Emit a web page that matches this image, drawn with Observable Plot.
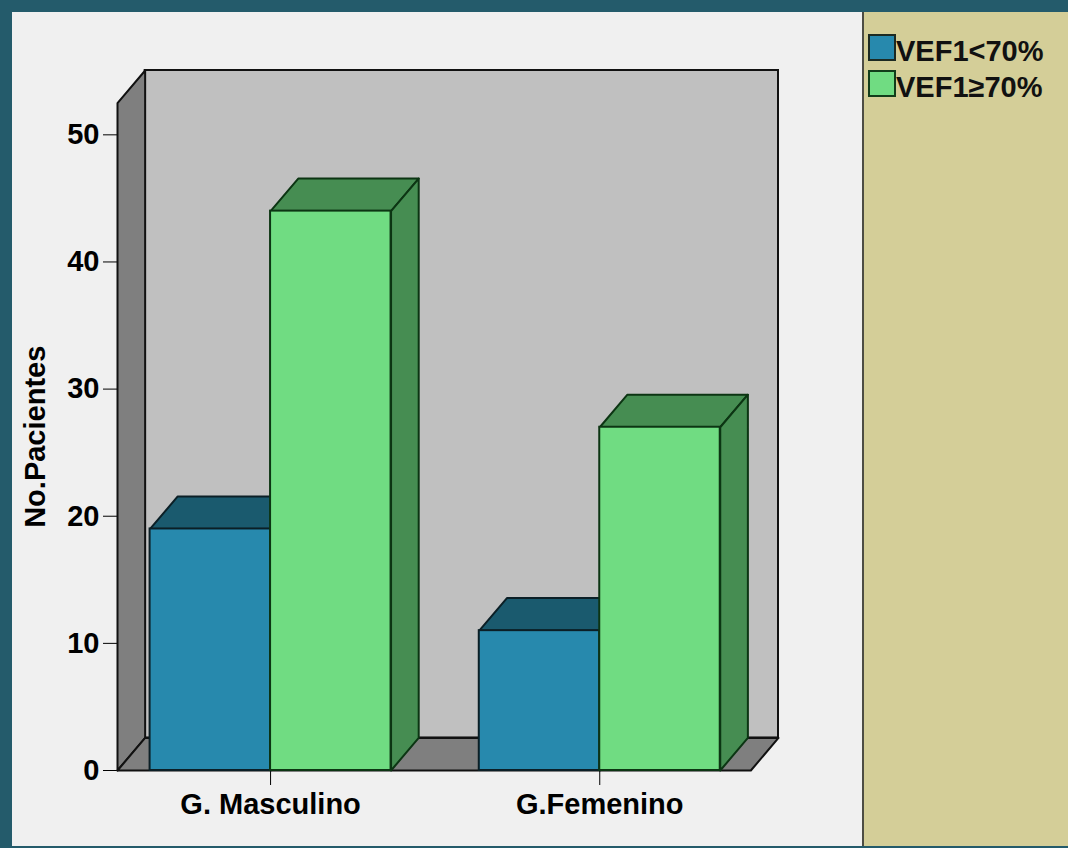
<!DOCTYPE html>
<html>
<head>
<meta charset="utf-8">
<script src="https://cdn.jsdelivr.net/npm/d3@7"></script>
<script src="https://cdn.jsdelivr.net/npm/@observablehq/plot@0.6"></script>
<style>
html, body { margin: 0; padding: 0; }
body { width: 1068px; height: 848px; background: #245b6b; position: relative; overflow: hidden;
  font-family: "Liberation Sans", Arial, sans-serif; }
#panel { position: absolute; left: 12px; top: 12px; width: 850px; height: 834px; background: #f0f0f0; }
#legend { position: absolute; left: 862px; top: 12px; width: 206px; height: 834px; background: #d4ce98;
  border-left: 2px solid #4d4d44; box-sizing: border-box; }
.sw { position: absolute; left: 4px; width: 24px; height: 23px; border: 2px solid #1c2a22; }
.lt { position: absolute; left: 32px; font-size: 29px; line-height: 29px; font-weight: bold; color: #111; white-space: nowrap; }
</style>
</head>
<body>
<div id="panel"></div>
<div id="legend"></div>
<script>
// ---- data ----
const categories = ["G. Masculino", "G.Femenino"];
const series = ["VEF1<70%", "VEF1≥70%"];
const vef1Below70 = [19, 11];
const vef1AtLeast70 = [44, 27];
const yTicks = [0, 10, 20, 30, 40, 50];
const yLabel = "No.Pacientes";

// ---- styling / layout ----
const frontColors = ["#2789ad", "#70dc82"];
const shadeColors = ["#1a5a6e", "#468d52"];
const edgeColors = ["#0b1f26", "#0c3513"];
const wallFill = "#c0c0c0", sideWallFill = "#7f7f7f";
const barHalf = 0.366;            // bar width in category units
const depthX = 0.084, depthY = 2.56; // 3D depth in scale units
const xLeft = -0.465, xRight = 1.459, wallTop = 52.5;

const valuesBySeries = [vef1Below70, vef1AtLeast70];

// fronts, tops, sides per series
function fronts(s) {
  return categories.map((c, i) => {
    const x1 = i + (s === 0 ? -barHalf : 0);
    return {category: c, series: series[s], x1, x2: x1 + barHalf, y1: 0, y2: valuesBySeries[s][i]};
  });
}
function tops(s) {
  return fronts(s).flatMap((b, i) => [
    {id: i, x: b.x1, y: b.y2},
    {id: i, x: b.x2, y: b.y2},
    {id: i, x: b.x2 + depthX, y: b.y2 + depthY},
    {id: i, x: b.x1 + depthX, y: b.y2 + depthY}
  ]);
}
function sides(s) {
  return fronts(s).flatMap((b, i) => [
    {id: i, x: b.x2, y: 0},
    {id: i, x: b.x2, y: b.y2},
    {id: i, x: b.x2 + depthX, y: b.y2 + depthY},
    {id: i, x: b.x2 + depthX, y: depthY}
  ]);
}

const leftWall = [
  {x: xLeft, y: 0}, {x: xLeft, y: wallTop},
  {x: xLeft + depthX, y: wallTop + depthY}, {x: xLeft + depthX, y: depthY}
];
const floor = [
  {x: xLeft, y: 0}, {x: xRight, y: 0},
  {x: xRight + depthX, y: depthY}, {x: xLeft + depthX, y: depthY}
];
const backWall = [{x1: xLeft + depthX, x2: xRight + depthX, y1: depthY, y2: wallTop + depthY}];

const barMarks = [0, 1].flatMap(s => [
  Plot.line(tops(s), {x: "x", y: "y", z: "id", curve: "linear-closed", fill: shadeColors[s], stroke: edgeColors[s], strokeWidth: 2, strokeLinejoin: "round"}),
  Plot.line(sides(s), {x: "x", y: "y", z: "id", curve: "linear-closed", fill: shadeColors[s], stroke: edgeColors[s], strokeWidth: 2, strokeLinejoin: "round"}),
  Plot.rect(fronts(s), {x1: "x1", x2: "x2", y1: "y1", y2: "y2", fill: frontColors[s], stroke: edgeColors[s], strokeWidth: 2})
]);

const chart = Plot.plot({
  width: 850,
  height: 834,
  marginLeft: 105,
  marginRight: 84,
  marginTop: 58,
  marginBottom: 76,
  style: {background: "transparent", color: "#000", fontFamily: "'Liberation Sans', Arial, sans-serif",
    fontSize: "29px", fontWeight: "bold", overflow: "visible"},
  x: {domain: [xLeft, xRight + depthX], ticks: [0, 1], tickFormat: i => categories[i],
      tickSize: 15, tickPadding: 8, label: null},
  y: {domain: [0, wallTop + depthY], ticks: yTicks, tickSize: 14, tickPadding: 4, label: null},
  marks: [
    Plot.rect(backWall, {x1: "x1", x2: "x2", y1: "y1", y2: "y2", fill: wallFill, stroke: "#111", strokeWidth: 2}),
    Plot.line(leftWall, {x: "x", y: "y", curve: "linear-closed", fill: sideWallFill, stroke: "#111", strokeWidth: 2, strokeLinejoin: "round"}),
    Plot.line(floor, {x: "x", y: "y", curve: "linear-closed", fill: sideWallFill, stroke: "#111", strokeWidth: 2, strokeLinejoin: "round"}),
    ...barMarks,
    Plot.text([yLabel], {text: d => d, y: () => wallTop / 2, frameAnchor: "left", dx: -82,
      rotate: -90, textAnchor: "middle", lineAnchor: "middle"})
  ]
});
document.getElementById("panel").appendChild(chart);

// legend
const legend = document.getElementById("legend");
const swTops = [22, 58], txtTops = [25, 61];
series.forEach((s, i) => {
  const sw = document.createElement("div");
  sw.className = "sw";
  sw.style.top = swTops[i] + "px";
  sw.style.background = frontColors[i];
  if (i === 1) sw.style.borderColor = "#123d1a";
  legend.appendChild(sw);
  const t = document.createElement("div");
  t.className = "lt";
  t.style.top = txtTops[i] + "px";
  t.textContent = s;
  legend.appendChild(t);
});
</script>
</body>
</html>
